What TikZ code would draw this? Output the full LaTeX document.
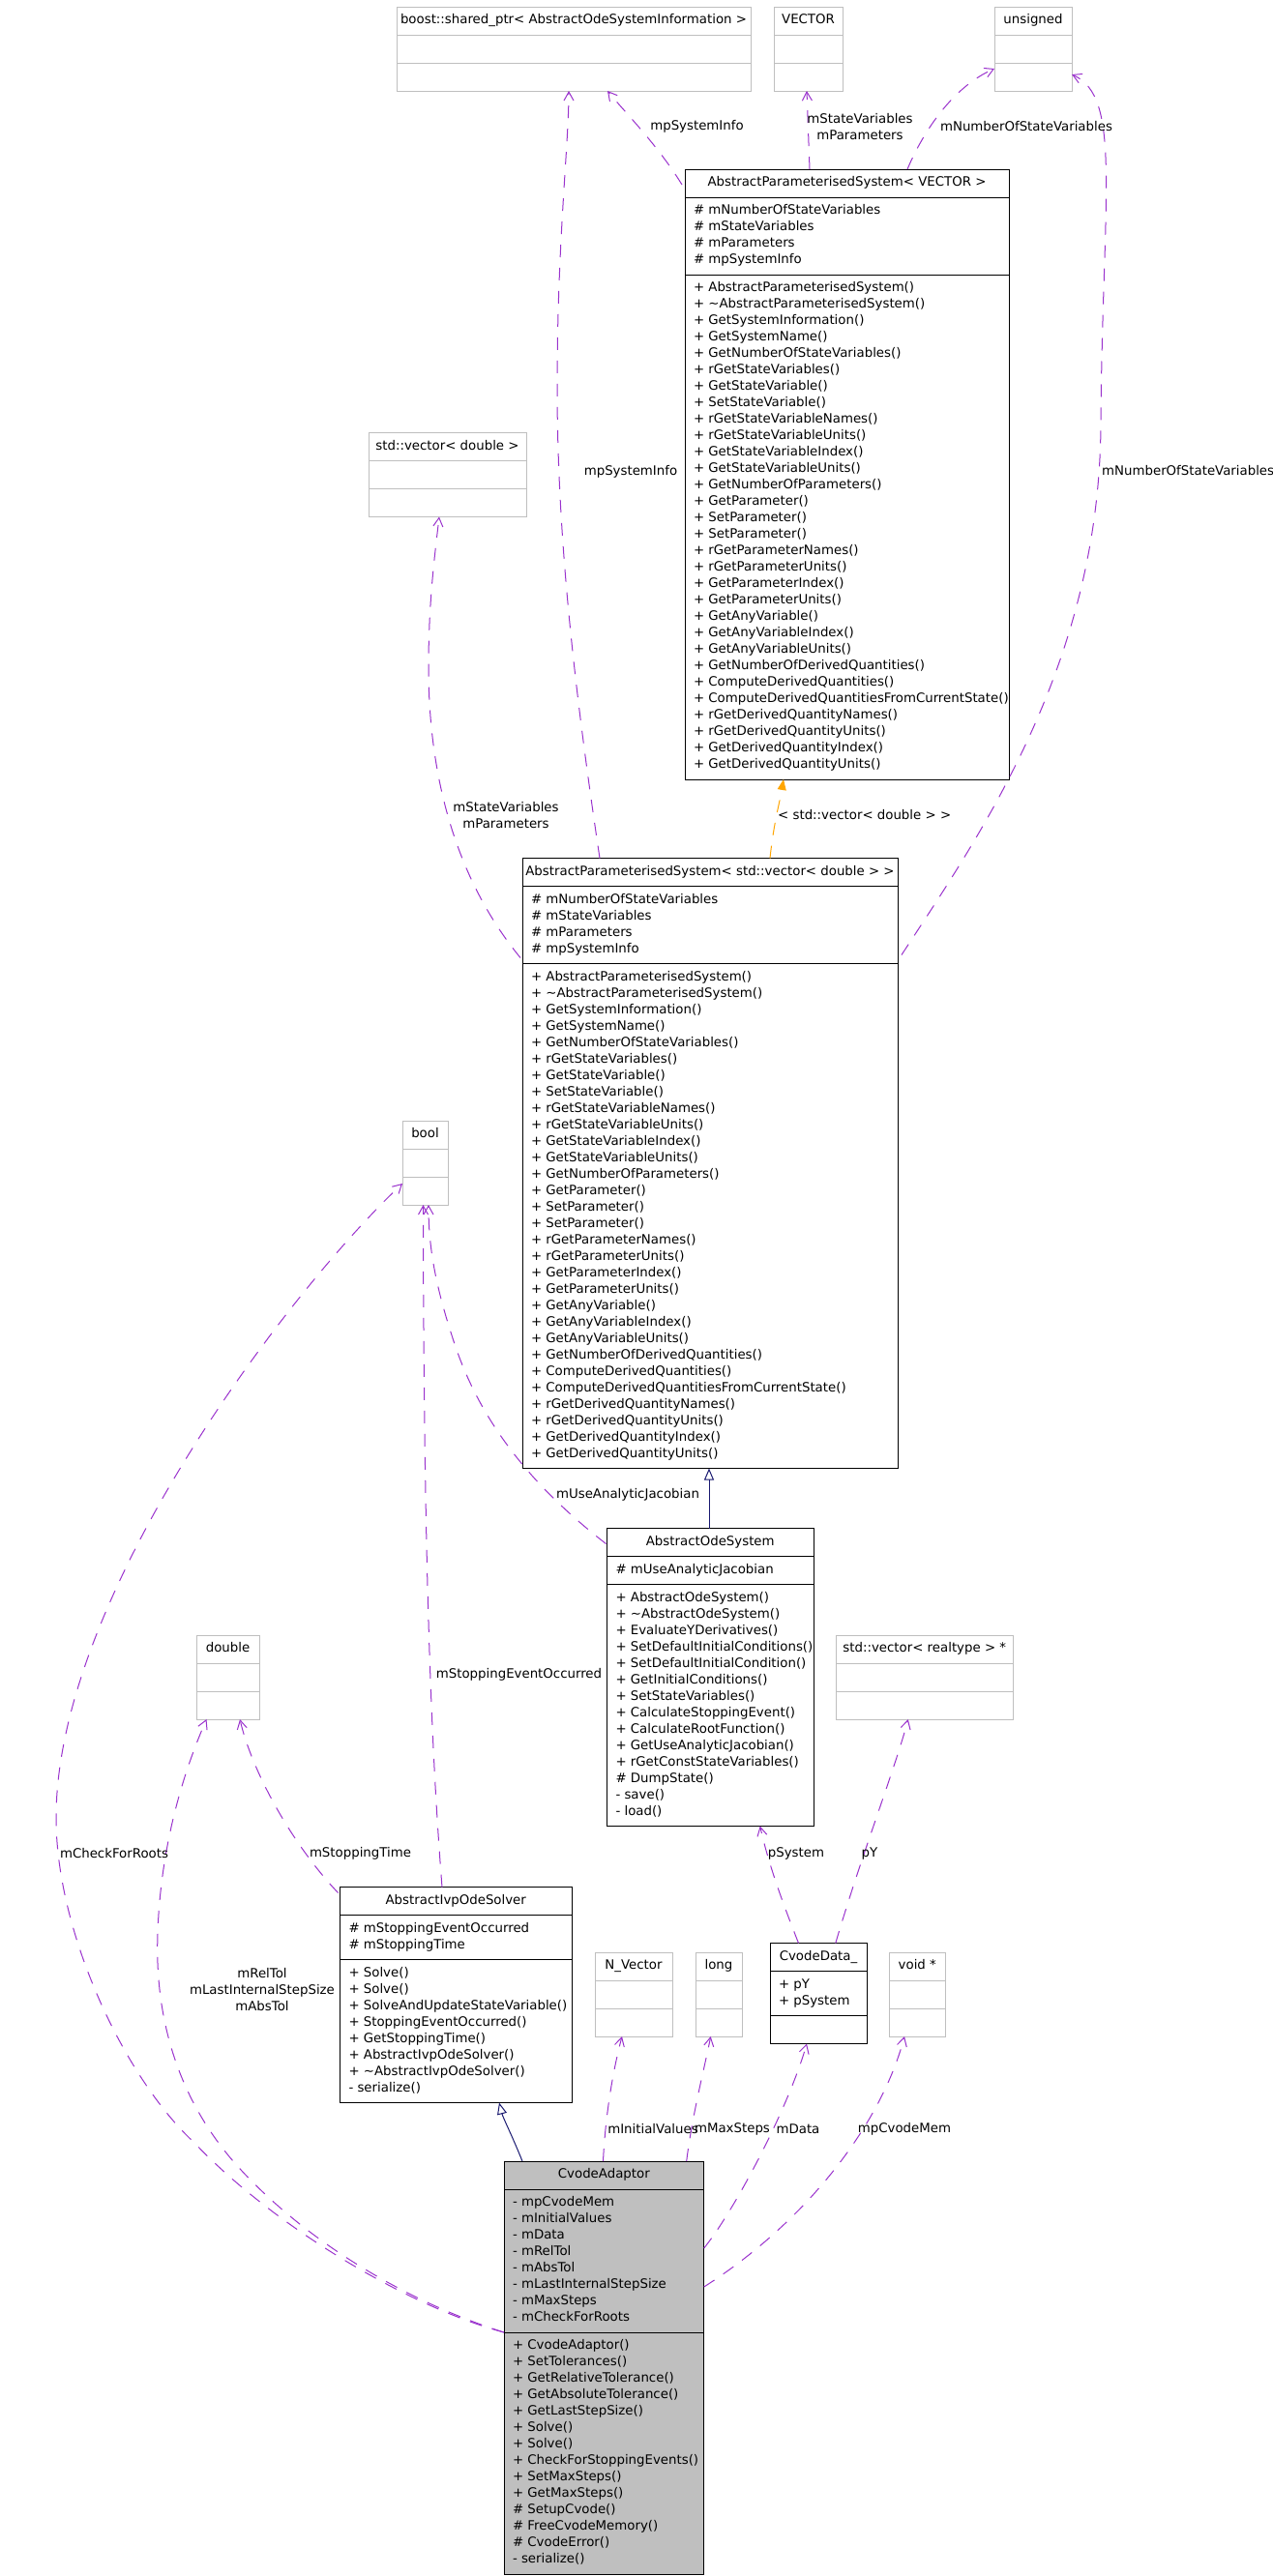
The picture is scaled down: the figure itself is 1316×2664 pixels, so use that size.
\documentclass[tikz,border=0pt]{standalone}
\usepackage{fontspec}
\setmainfont{DejaVu Sans}
\definecolor{dxpurple}{HTML}{9A32CD}
\definecolor{dxnavy}{HTML}{191970}
\definecolor{dxorange}{HTML}{FFA500}
\definecolor{dxgray}{HTML}{BFBFBF}
\usetikzlibrary{arrows.meta,shapes.multipart}

\newcommand\umlfont{\fontsize{13.33pt}{17pt}\selectfont}
\newcommand\umlname[1]{\makebox[0pt]{\strut#1}}
\newcommand\umllist[1]{\rlap{\begin{tabular}{@{}l@{}}#1\end{tabular}}}
\newcommand\apsattrs{\umllist{\# mNumberOfStateVariables\\\# mStateVariables\\\# mParameters\\\# mpSystemInfo}}
\newcommand\apsmethods{\umllist{+ AbstractParameterisedSystem()\\+ \textasciitilde AbstractParameterisedSystem()\\
  + GetSystemInformation()\\+ GetSystemName()\\+ GetNumberOfStateVariables()\\+ rGetStateVariables()\\
  + GetStateVariable()\\+ SetStateVariable()\\+ rGetStateVariableNames()\\+ rGetStateVariableUnits()\\
  + GetStateVariableIndex()\\+ GetStateVariableUnits()\\+ GetNumberOfParameters()\\+ GetParameter()\\
  + SetParameter()\\+ SetParameter()\\+ rGetParameterNames()\\+ rGetParameterUnits()\\
  + GetParameterIndex()\\+ GetParameterUnits()\\+ GetAnyVariable()\\+ GetAnyVariableIndex()\\
  + GetAnyVariableUnits()\\+ GetNumberOfDerivedQuantities()\\+ ComputeDerivedQuantities()\\
  + ComputeDerivedQuantitiesFromCurrentState()\\+ rGetDerivedQuantityNames()\\
  + rGetDerivedQuantityUnits()\\+ GetDerivedQuantityIndex()\\+ GetDerivedQuantityUnits()}}

\tikzset{
  umlclass/.style={rectangle split,rectangle split parts=3,rectangle split part align={center,left,left},
    draw=black,fill=white,line width=1pt,anchor=north west,outer sep=0pt,inner xsep=9pt,inner ysep=5.5pt,font=\umlfont},
  umlext/.style={umlclass,draw=dxgray},
  umldep/.style={dxpurple,line width=1pt,dash pattern=on 13pt off 11pt,-{Straight Barb[length=9pt,width=10pt]}},
  umlinh/.style={dxnavy,line width=1pt,-{Triangle[length=12pt,width=10pt,fill=white]}},
  umltpl/.style={dxorange,line width=1pt,dash pattern=on 13pt off 11pt,-{Triangle[length=11pt,width=9pt]}},
  umllbl/.style={font=\umlfont,inner sep=0pt,align=center}
}

\begin{document}
\begin{tikzpicture}[x=1pt,y=-1pt]
  \useasboundingbox (0,0) rectangle (1316,2664);

  \node[umlext,minimum width=366pt] (shptr) at (410,7) {\umlname{boost::shared\_ptr< AbstractOdeSystemInformation >}\nodepart{two}\strut\nodepart{three}\strut};
  \node[umlext,minimum width=71pt] (vec) at (800,7) {\umlname{VECTOR}\nodepart{two}\strut\nodepart{three}\strut};
  \node[umlext,minimum width=80pt] (uns) at (1028,7) {\umlname{unsigned}\nodepart{two}\strut\nodepart{three}\strut};
  \node[umlclass,minimum width=335pt] (apsv) at (708,175) {\umlname{AbstractParameterisedSystem< VECTOR >}\nodepart{two}\apsattrs\nodepart{three}\apsmethods};
  \node[umlext,minimum width=163pt] (stdvd) at (381,447.5) {\umlname{std::vector< double >}\nodepart{two}\strut\nodepart{three}\strut};
  \node[umlclass,minimum width=388pt] (apsd) at (540,887.5) {\umlname{AbstractParameterisedSystem< std::vector< double > >}\nodepart{two}\apsattrs\nodepart{three}\apsmethods};
  \node[umlext,minimum width=47pt] (bool) at (416,1159) {\umlname{bool}\nodepart{two}\strut\nodepart{three}\strut};
  \node[umlclass,minimum width=213.5pt] (aos) at (627.5,1580.5) {\umlname{AbstractOdeSystem}
    \nodepart{two}\umllist{\# mUseAnalyticJacobian}
    \nodepart{three}\umllist{+ AbstractOdeSystem()\\+ \textasciitilde AbstractOdeSystem()\\+ EvaluateYDerivatives()\\
      + SetDefaultInitialConditions()\\+ SetDefaultInitialCondition()\\+ GetInitialConditions()\\
      + SetStateVariables()\\+ CalculateStoppingEvent()\\+ CalculateRootFunction()\\+ GetUseAnalyticJacobian()\\
      + rGetConstStateVariables()\\\# DumpState()\\- save()\\- load()}};
  \node[umlext,minimum width=65pt] (dbl) at (203,1691) {\umlname{double}\nodepart{two}\strut\nodepart{three}\strut};
  \node[umlext,minimum width=183.5pt] (svr) at (864,1691) {\umlname{std::vector< realtype > *}\nodepart{two}\strut\nodepart{three}\strut};
  \node[umlclass,minimum width=239.5pt] (aios) at (351.5,1951.5) {\umlname{AbstractIvpOdeSolver}
    \nodepart{two}\umllist{\# mStoppingEventOccurred\\\# mStoppingTime}
    \nodepart{three}\umllist{+ Solve()\\+ Solve()\\+ SolveAndUpdateStateVariable()\\+ StoppingEventOccurred()\\
      + GetStoppingTime()\\+ AbstractIvpOdeSolver()\\+ \textasciitilde AbstractIvpOdeSolver()\\- serialize()}};
  \node[umlext,minimum width=80pt] (nvec) at (615,2019) {\umlname{N\_Vector}\nodepart{two}\strut\nodepart{three}\strut};
  \node[umlext,minimum width=48pt] (long) at (719,2019) {\umlname{long}\nodepart{two}\strut\nodepart{three}\strut};
  \node[umlclass,minimum width=100pt] (cvd) at (796,2009.5) {\umlname{CvodeData\_}
    \nodepart{two}\umllist{+ pY\\+ pSystem}\nodepart{three}\strut};
  \node[umlext,minimum width=58.5pt] (voidp) at (919,2019) {\umlname{void *}\nodepart{two}\strut\nodepart{three}\strut};
  \node[umlclass,fill=dxgray,minimum width=206.7pt] (cva) at (521,2235) {\umlname{CvodeAdaptor}
    \nodepart{two}\umllist{- mpCvodeMem\\- mInitialValues\\- mData\\- mRelTol\\- mAbsTol\\- mLastInternalStepSize\\
      - mMaxSteps\\- mCheckForRoots}
    \nodepart{three}\umllist{+ CvodeAdaptor()\\+ SetTolerances()\\+ GetRelativeTolerance()\\+ GetAbsoluteTolerance()\\
      + GetLastStepSize()\\+ Solve()\\+ Solve()\\+ CheckForStoppingEvents()\\+ SetMaxSteps()\\+ GetMaxSteps()\\
      \# SetupCvode()\\\# FreeCvodeMemory()\\\# CvodeError()\\- serialize()}};

  \draw[umldep] ([shift={(-3,16)}]apsv.north west) .. controls (680,150) and (645,115) .. ([shift={(218,0)}]shptr.south west);
  \draw[umldep] ([shift={(80,0)}]apsd.north west) .. controls (595,720) and (576,560) .. (576,400)
    .. controls (576,250) and (588,150) .. ([shift={(178,0)}]shptr.south west);
  \draw[umldep] ([shift={(129,0)}]apsv.north west) -- ([shift={(34,0)}]vec.south west);
  \draw[umldep] ([shift={(230,0)}]apsv.north west) .. controls (955,135) and (985,90) .. ([shift={(0,-23)}]uns.south west);
  \draw[umldep] ([shift={(4,100)}]apsd.north east) .. controls (1014,862) and (1138,685) .. (1138,435)
    .. controls (1140,200) and (1160,100) .. ([shift={(0,-17)}]uns.south east);
  \draw[umldep] ([shift={(-2,103)}]apsd.north west) .. controls (480,920) and (443,820) .. (443,690)
    .. controls (443,620) and (450,570) .. ([shift={(73,0)}]stdvd.south west);
  \draw[umltpl] ([shift={(256,0)}]apsd.north west) .. controls (800,850) and (806,830) .. ([shift={(102,0)}]apsv.south west);
  \draw[umlinh] ([shift={(105.5,0)}]aos.north west) -- ([shift={(193,0)}]apsd.south west);
  \draw[umldep] ([shift={(-1,16)}]aos.north west) .. controls (560,1545) and (500,1480) .. (470,1390)
    .. controls (450,1330) and (443,1290) .. ([shift={(27,0)}]bool.south west);
  \draw[umldep] ([shift={(105.5,0)}]aios.north west) .. controls (445,1800) and (438,1600) .. ([shift={(21.5,0)}]bool.south west);
  \draw[umldep] ([shift={(-2,6)}]aios.north west) .. controls (300,1905) and (260,1830) .. ([shift={(45,0)}]dbl.south west);
  \draw[umldep] ([shift={(0,177)}]cva.north west) .. controls (420,2380) and (320,2320) .. (250,2245)
    .. controls (180,2170) and (160,2080) .. (163,2000) .. controls (166,1900) and (195,1820) .. ([shift={(10.5,0)}]dbl.south west);
  \draw[umldep] ([shift={(0,177)}]cva.north west) .. controls (420,2385) and (280,2300) .. (200,2215)
    .. controls (130,2150) and (58,2000) .. (58,1880) .. controls (58,1650) and (300,1333) .. ([shift={(0,-22)}]bool.south west);
  \draw[umlinh] ([shift={(19,0)}]cva.north west) .. controls (530,2210) and (520,2190) .. ([shift={(164.5,0)}]aios.south west);
  \draw[umldep] ([shift={(102.5,0)}]cva.north west) .. controls (626,2185) and (634,2140) .. ([shift={(28,0)}]nvec.south west);
  \draw[umldep] ([shift={(188.7,0)}]cva.north west) .. controls (716,2185) and (728,2140) .. ([shift={(15.7,0)}]long.south west);
  \draw[umldep] ([shift={(0,90)}]cva.north east) .. controls (760,2285) and (815,2180) .. ([shift={(38,0)}]cvd.south west);
  \draw[umldep] ([shift={(0,130)}]cva.north east) .. controls (830,2300) and (910,2200) .. ([shift={(16,0)}]voidp.south west);
  \draw[umldep] ([shift={(29.5,0)}]cvd.north west) .. controls (810,1970) and (795,1930) .. ([shift={(158.2,0)}]aos.south west);
  \draw[umldep] ([shift={(67.8,0)}]cvd.north west) .. controls (890,1920) and (925,1830) .. ([shift={(74.8,0)}]svr.south west);

  \node[umllbl] (lblinfoa) at (720.5,131) {mpSystemInfo};
  \node[umllbl] (lblvarsa) at (889,131) {mStateVariables\\mParameters};
  \node[umllbl] (lblnuma) at (1061,131) {mNumberOfStateVariables};
  \node[umllbl] (lblinfob) at (652,487.5) {mpSystemInfo};
  \node[umllbl,anchor=west] (lblnumb) at (1139,487) {mNumberOfStateVariables};
  \node[umllbl] (lblvarsb) at (523,843) {mStateVariables\\mParameters};
  \node[umllbl,anchor=west] (lbltpl) at (804,843) {< std::vector< double > >};
  \node[umllbl] (lbljac) at (649,1546) {mUseAnalyticJacobian};
  \node[umllbl] (lblevt) at (536.5,1731.6) {mStoppingEventOccurred};
  \node[umllbl] (lbltime) at (372.5,1916.5) {mStoppingTime};
  \node[umllbl] (lblroots) at (118,1917) {mCheckForRoots};
  \node[umllbl] (lbltol) at (271,2058) {mRelTol\\mLastInternalStepSize\\mAbsTol};
  \node[umllbl] (lblsys) at (823,1917) {pSystem};
  \node[umllbl] (lbly) at (899,1917) {pY};
  \node[umllbl] (lblinit) at (675,2201.5) {mInitialValues};
  \node[umllbl] (lblmax) at (757,2201.5) {mMaxSteps};
  \node[umllbl] (lbldata) at (825,2201.5) {mData};
  \node[umllbl] (lblmem) at (935,2201.5) {mpCvodeMem};
\end{tikzpicture}
\end{document}
